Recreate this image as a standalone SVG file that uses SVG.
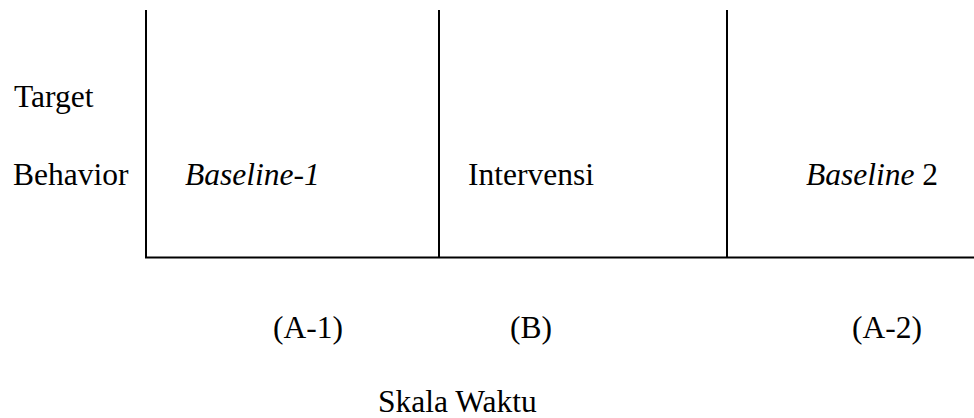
<svg xmlns="http://www.w3.org/2000/svg" width="974" height="418" viewBox="0 0 974 418">
<style>
text{font-family:"Liberation Serif","Times New Roman",serif;font-size:31.5px;fill:#000}
.it{font-style:italic}
.ln{stroke:#000;stroke-width:2;fill:none}
</style>
<rect width="974" height="418" fill="#fff"/>
<g id="connectors">
<line class="ln" x1="146" y1="10" x2="146" y2="258"/>
<line class="ln" x1="439" y1="10" x2="439" y2="258"/>
<line class="ln" x1="727" y1="10" x2="727" y2="258"/>
<line class="ln" x1="145" y1="257.5" x2="974" y2="257.5"/>
</g>
<g id="axis-y">
<text x="14" y="107">Target</text>
<text x="13" y="185">Behavior</text>
</g>
<g id="phase-a1">
<text class="it" x="185" y="185">Baseline-1</text>
<text x="273" y="338">(A-1)</text>
</g>
<g id="phase-b">
<text x="468" y="185">Intervensi</text>
<text x="510" y="338">(B)</text>
</g>
<g id="phase-a2">
<text x="806" y="185"><tspan class="it">Baseline</tspan> 2</text>
<text x="852" y="338">(A-2)</text>
</g>
<g id="axis-x">
<text x="378" y="412">Skala Waktu</text>
</g>
</svg>
